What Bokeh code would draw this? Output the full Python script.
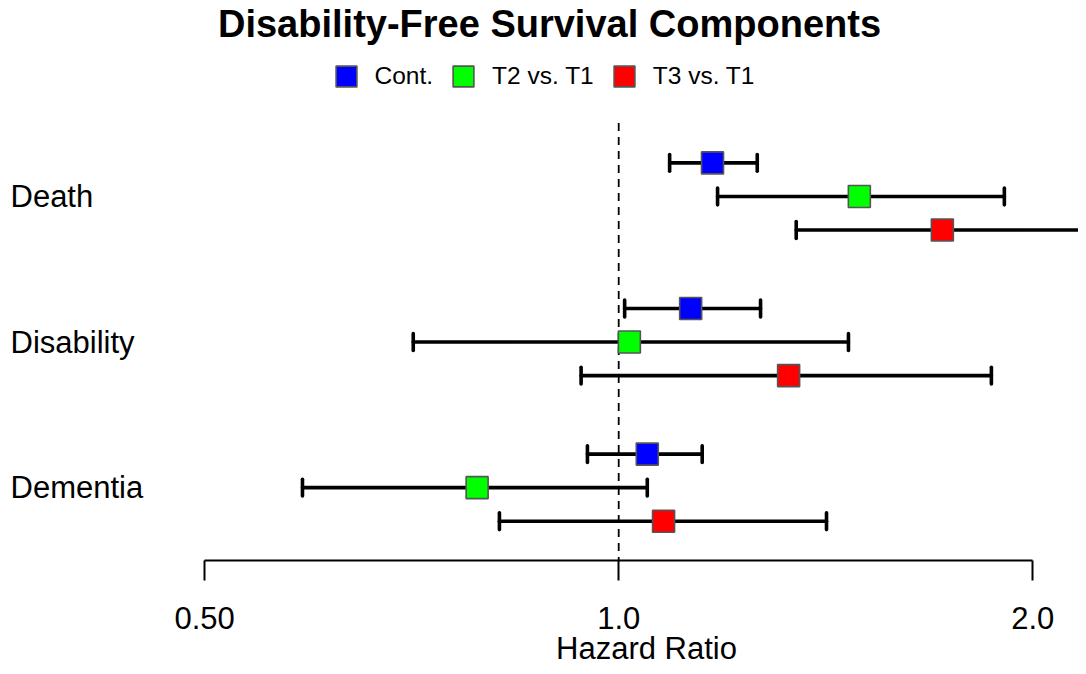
from bokeh.plotting import figure
from bokeh.models import Range1d, FixedTicker, Label, Legend, LegendItem, ColumnDataSource
from bokeh.embed import file_html
from bokeh.resources import INLINE

# ---- data ----
groups = ["Death", "Disability", "Dementia"]
series = ["Cont.", "T2 vs. T1", "T3 vs. T1"]
hr_cont = [1.170, 1.128, 1.049]
lo_cont = [1.089, 1.010, 0.949]
hi_cont = [1.261, 1.268, 1.150]
hr_t2 = [1.496, 1.018, 0.789]
lo_t2 = [1.180, 0.709, 0.589]
hi_t2 = [1.907, 1.469, 1.049]
hr_t3 = [1.719, 1.329, 1.078]
lo_t3 = [1.346, 0.939, 0.819]
hi_t3 = [2.185, 1.866, 1.416]
tick_values = [0.5, 1.0, 2.0]
tick_labels = ["0.50", "1.0", "2.0"]

# ---- styles / layout ----
colors = ["#0000FF", "#00FF00", "#FF0000"]
FONT = "Liberation Sans"
group_gap = 4.34
offsets = [1, 0, -1]
group_y = [group_gap * (len(groups) - 1 - i) for i in range(len(groups))]
axis_y = -2.175
y_start, y_end = -5.33, 14.52

p = figure(width=1078, height=666, x_axis_type="log",
           x_range=Range1d(0.3553, 2.159), y_range=Range1d(y_start, y_end),
           y_axis_location=None, output_backend="svg", toolbar_location=None,
           min_border_left=0, min_border_right=0, min_border_top=0, min_border_bottom=0)
p.grid.visible = False
p.outline_line_color = None

# reference line at HR = 1
top_row = max(group_y) + max(offsets)
p.segment(x0=[1.0], y0=[top_row + 1.19], x1=[1.0], y1=[axis_y],
          line_color="black", line_width=1.8, line_dash="8 6")

all_series = [(hr_cont, lo_cont, hi_cont), (hr_t2, lo_t2, hi_t2), (hr_t3, lo_t3, hi_t3)]
cap = 0.25
sources = []
for k, (hr, lo, hi) in enumerate(all_series):
    ys = [gy + offsets[k] for gy in group_y]
    src = ColumnDataSource(dict(hr=hr, lo=lo, hi=hi, y=ys,
                                yc0=[y - cap for y in ys], yc1=[y + cap for y in ys]))
    sources.append(src)
    p.segment(x0="lo", y0="y", x1="hi", y1="y", source=src,
              line_color="black", line_width=3.6, line_cap="round")
    p.segment(x0="lo", y0="yc0", x1="lo", y1="yc1", source=src,
              line_color="black", line_width=3.6, line_cap="round")
    p.segment(x0="hi", y0="yc0", x1="hi", y1="yc1", source=src,
              line_color="black", line_width=3.6, line_cap="round")

renderers = []
for k, src in enumerate(sources):
    r = p.scatter(x="hr", y="y", source=src, marker="square", size=22,
                  fill_color=colors[k], line_color="#555555", line_width=1.6)
    renderers.append(r)

# x axis (drawn inside the frame at a fixed location)
ax = p.xaxis[0]
ax.fixed_location = axis_y
ax.ticker = FixedTicker(ticks=tick_values)
ax.major_label_overrides = {v: s for v, s in zip(tick_values, tick_labels)}
ax.bounds = (tick_values[0], tick_values[-1])
ax.minor_tick_line_color = None
ax.major_tick_in = 0
ax.major_tick_out = 20
ax.major_tick_line_width = 2
ax.axis_line_width = 2
ax.axis_line_color = "black"
ax.major_tick_line_color = "black"
ax.major_label_standoff = 26
ax.major_label_text_font = FONT
ax.major_label_text_font_size = "31px"
ax.major_label_text_color = "black"

# group labels
for g, gy in zip(groups, group_y):
    p.add_layout(Label(x=10, x_units="screen", y=gy, text=g, text_align="left",
                       text_baseline="middle", text_font=FONT, text_font_size="31px",
                       text_color="black"))

# title
p.add_layout(Label(x=549, y=642.5, x_units="screen", y_units="screen",
                   text="Disability-Free Survival Components", text_align="center",
                   text_baseline="middle", text_font=FONT, text_font_size="38px",
                   text_font_style="bold", text_color="black"))

# axis title
p.add_layout(Label(x=646, y=18, x_units="screen", y_units="screen",
                   text="Hazard Ratio", text_align="center", text_baseline="middle",
                   text_font=FONT, text_font_size="31px", text_color="black"))

legend = Legend(items=[LegendItem(label=s, renderers=[r]) for s, r in zip(series, renderers)],
                orientation="horizontal", location=(319.5, 564.5),
                glyph_width=52, glyph_height=52, label_standoff=3, spacing=4,
                padding=0, margin=0, border_line_color=None, background_fill_alpha=0,
                label_text_font=FONT, label_text_font_size="24.5px", label_text_color="black")
p.add_layout(legend)

open("out.html", "w").write(file_html(p, INLINE))
